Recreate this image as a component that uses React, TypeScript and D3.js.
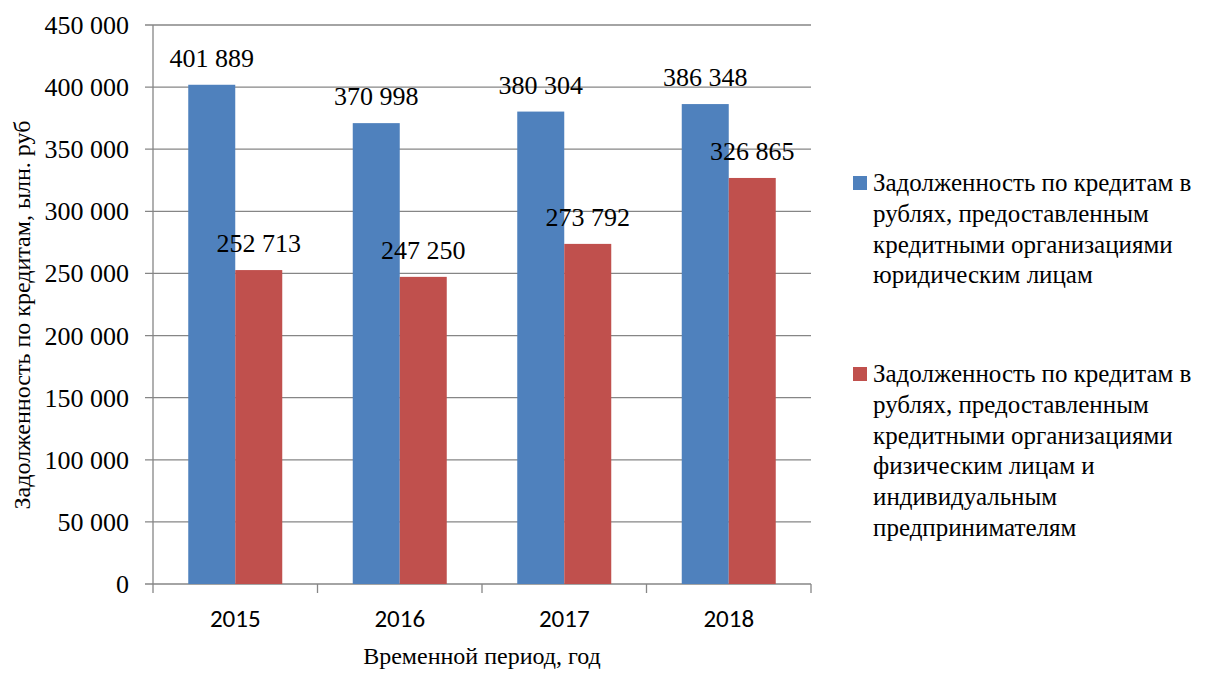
import React from "react";
import * as d3 from "d3";

const years = ["2015", "2016", "2017", "2018"];
const legalEntities = [401889, 370998, 380304, 386348];
const individuals = [252713, 247250, 273792, 326865];
const yTicks = [0, 50000, 100000, 150000, 200000, 250000, 300000, 350000, 400000, 450000];
const seriesNames = [
  ["Задолженность по кредитам в", "рублях, предоставленным", "кредитными организациями", "юридическим лицам"],
  ["Задолженность по кредитам в", "рублях, предоставленным", "кредитными организациями", "физическим лицам и", "индивидуальным", "предпринимателям"],
];
const colors = ["#4F81BD", "#C0504D"];
const yTitle = "Задолженность по кредитам, ылн. руб";
const xTitle = "Временной период, год";

const fmt = (v: number) => d3.format(",")(v).replace(/,/g, " ");

const css = `
.sr { font-family: "Times New Roman", "Liberation Serif", Tinos, serif; fill: #000; }
.ss { font-family: Carlito, Calibri, "Liberation Sans", sans-serif; fill: #000; }
`;

export default function App() {
  const W = 1216, H = 673;
  const left = 153, right = 811, top = 25, bottom = 584;
  const x = d3.scaleBand<string>().domain(years).range([left, right]).padding(0);
  const inner = d3.scaleBand<string>().domain(["a", "b"]).range([0, x.bandwidth()]).paddingInner(0).paddingOuter(0.75);
  const y = d3.scaleLinear().domain([0, 450000]).range([bottom, top]);
  const series = [legalEntities, individuals];
  const keys = ["a", "b"];
  const grid = "#868686";

  return (
    <div style={{ position: "fixed", left: 0, top: 0, width: W, height: H, background: "#fff" }}>
      <style>{css}</style>
      <svg width={W} height={H}>
        {yTicks.map((t) => (
          <line key={"g" + t} x1={left - 8} x2={right} y1={y(t)} y2={y(t)} stroke={grid} strokeWidth={1.3} />
        ))}
        <line x1={left} x2={left} y1={top} y2={bottom} stroke={grid} strokeWidth={1.3} />
        {[...years.map((yr) => x(yr)!), right].map((px, i) => (
          <line key={"t" + i} x1={px} x2={px} y1={bottom} y2={bottom + 9} stroke={grid} strokeWidth={1.3} />
        ))}
        {yTicks.map((t) => (
          <text key={"y" + t} className="sr" x={129} y={y(t) + 9} textAnchor="end" fontSize={26}>
            {fmt(t)}
          </text>
        ))}
        {series.map((vals, si) =>
          vals.map((v, i) => (
            <rect
              key={si + "-" + i}
              x={x(years[i])! + inner(keys[si])!}
              y={y(v)}
              width={inner.bandwidth()}
              height={bottom - y(v)}
              fill={colors[si]}
            />
          ))
        )}
        {series.map((vals, si) =>
          vals.map((v, i) => (
            <text
              key={"l" + si + "-" + i}
              className="sr"
              x={x(years[i])! + inner(keys[si])! + inner.bandwidth() / 2}
              y={y(v) - 18}
              textAnchor="middle"
              fontSize={26}
            >
              {fmt(v)}
            </text>
          ))
        )}
        {years.map((yr) => (
          <text key={yr} className="ss" x={x(yr)! + x.bandwidth() / 2} y={627} textAnchor="middle" fontSize={25}>
            {yr}
          </text>
        ))}
        <text className="sr" x={482} y={664} textAnchor="middle" fontSize={24}>
          {xTitle}
        </text>
        <text className="sr" transform="translate(30,315) rotate(-90)" textAnchor="middle" fontSize={24}>
          {yTitle}
        </text>
        {seriesNames.map((lines, si) => {
          const y0 = si === 0 ? 191 : 382;
          return (
            <g key={si}>
              <rect x={853} y={y0 - 15} width={14} height={14} fill={colors[si]} />
              {lines.map((ln, li) => (
                <text key={li} className="sr" x={873} y={y0 + li * 30.8} fontSize={25}>
                  {ln}
                </text>
              ))}
            </g>
          );
        })}
      </svg>
    </div>
  );
}
